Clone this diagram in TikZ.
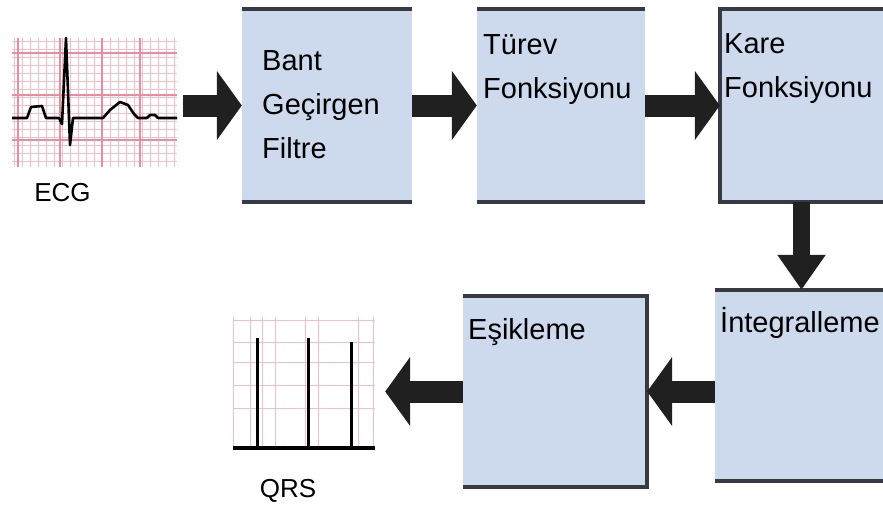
\documentclass[tikz,border=0pt]{standalone}
\usepackage{fontspec}
\setmainfont{Liberation Sans}
\usetikzlibrary{arrows.meta}

\definecolor{boxblue}{RGB}{205,217,236}
\definecolor{edgegray}{RGB}{55,58,66}
\definecolor{arrowblack}{RGB}{32,32,32}
\definecolor{gridpink}{RGB}{232,140,158}
\definecolor{gridlight}{RGB}{244,190,200}

\begin{document}
\begin{tikzpicture}[x = 1pt, y = -1pt,
                        block/.style = {rectangle, fill = boxblue, inner sep = 0},
                        boxtext/.style = {anchor = north west, align = left, inner sep = 0,
                                          font = \fontsize{29}{44}\selectfont},
                        rim/.style = {draw = edgegray, line width = 4pt},
                        harrow/.style = {draw = arrowblack, line width = 22pt,
                                         -{Triangle[length = 25pt, width = 68pt]}},
                        varrow/.style = {draw = arrowblack, line width = 17pt,
                                         -{Triangle[length = 35pt, width = 46pt]}},
                        gridminor/.style = {draw = gridlight, line width = 0.8pt},
                        gridmajor/.style = {draw = gridpink, line width = 1.6pt},
                        wave/.style = {draw = black, line width = 2.6pt, line join = round},
                        plot/.style = {inner sep = 0, font = \fontsize{26}{32}\selectfont}]
      \useasboundingbox (0, 0) rectangle (883, 511);

      % ECG grid
      \node [plot, minimum width = 165pt, minimum height = 129pt,
             label = {[plot, label distance = 16pt, xshift = -32pt]below:ECG}] (ecg) at (94.5, 102.5){};
      \foreach \gx in {14, 22, ..., 174} \draw [gridminor] (\gx, 38) -- (\gx, 167);
      \foreach \gy in {41, 49, ..., 165} \draw [gridminor] (12, \gy) -- (177, \gy);
      \foreach \gx in {18, 60, 102, 140} \draw [gridmajor] (\gx, 38) -- (\gx, 167);
      \foreach \gy in {53, 95, 140} \draw [gridmajor] (12, \gy) -- (177, \gy);
      \draw [wave] (12, 118) -- (27, 118) -- (31, 107) -- (42, 106) -- (46, 118) -- (59, 118)
            -- (62, 124) -- (66, 38) -- (70, 145) -- (73, 118) -- (103, 118) -- (110, 110)
            -- (120, 102) -- (128, 105) -- (134, 114) -- (138, 118) -- (147, 118)
            -- (150, 115) -- (155, 115) -- (158, 118) -- (177, 118);

      % blocks
      \node [block, minimum width = 170pt, minimum height = 193pt] (bant) at (327, 105.5){};
      \node [block, minimum width = 168pt, minimum height = 193pt] (turev) at (561, 105.5){};
      \node [block, minimum width = 163pt, minimum height = 193pt] (kare) at (801.5, 105.5){};
      \node [block, minimum width = 168pt, minimum height = 191pt] (integ) at (799, 385.5){};
      \node [block, minimum width = 184pt, minimum height = 191pt] (esik) at (555, 391.5){};

      \draw [rim] (bant.north west) -- (bant.north east);
      \draw [rim] (bant.south west) -- (bant.south east);
      \draw [rim] (turev.north west) -- (turev.north east);
      \draw [rim] (turev.south west) -- (turev.south east);
      \draw [rim] (kare.north east) -- (kare.north west) -- (kare.south west) -- (kare.south east);
      \draw [rim] (integ.north west) -- (integ.north east);
      \draw [rim] (integ.south west) -- (integ.south east);
      \draw [rim] (esik.north west) -- (esik.north east) -- (esik.south east) -- (esik.south west);

      \node [boxtext] (bantyazi) at (262, 50) {Bant\\Geçirgen\\Filtre};
      \node [boxtext] (turevyazi) at (483, 34) {Türev\\Fonksiyonu};
      \node [boxtext] (kareyazi) at (724, 33) {Kare\\Fonksiyonu};
      \node [boxtext] (integyazi) at (720, 307) {İntegralleme};
      \node [boxtext] (esikyazi) at (468, 318) {Eşikleme};

      % QRS grid
      \node [plot, minimum width = 142pt, minimum height = 133pt,
             label = {[plot, label distance = 29pt, xshift = -16pt]below:QRS}] (qrs) at (304, 383.5){};
      \foreach \gx in {233, 250, 262, 275, 305, 318, 358, 373} \draw [gridminor] (\gx, 317) -- (\gx, 448);
      \foreach \gy in {320, 342, 362, 385, 408} \draw [gridminor] (233, \gy) -- (375, \gy);
      \draw [line width = 4pt] (233, 448) -- (375, 448);
      \draw [line width = 3pt] (257, 448) -- (257, 338);
      \draw [line width = 3pt] (308, 448) -- (308, 338);
      \draw [line width = 3pt] (351, 448) -- (351, 342);

      % arrows
      \draw [harrow] ([xshift = 6pt]ecg.east |- bant.west) -- (bant.west);
      \draw [harrow] (bant.east) -- (turev.west);
      \draw [harrow] (turev.east) -- (kare.west);
      \draw [varrow] (kare.south) -- (kare.south |- integ.north);
      \draw [harrow] (integ.west |- esik.east) -- (esik.east);
      \draw [harrow] (esik.west) -- ([xshift = 10pt]qrs.east |- esik.west);
\end{tikzpicture}
\end{document}
